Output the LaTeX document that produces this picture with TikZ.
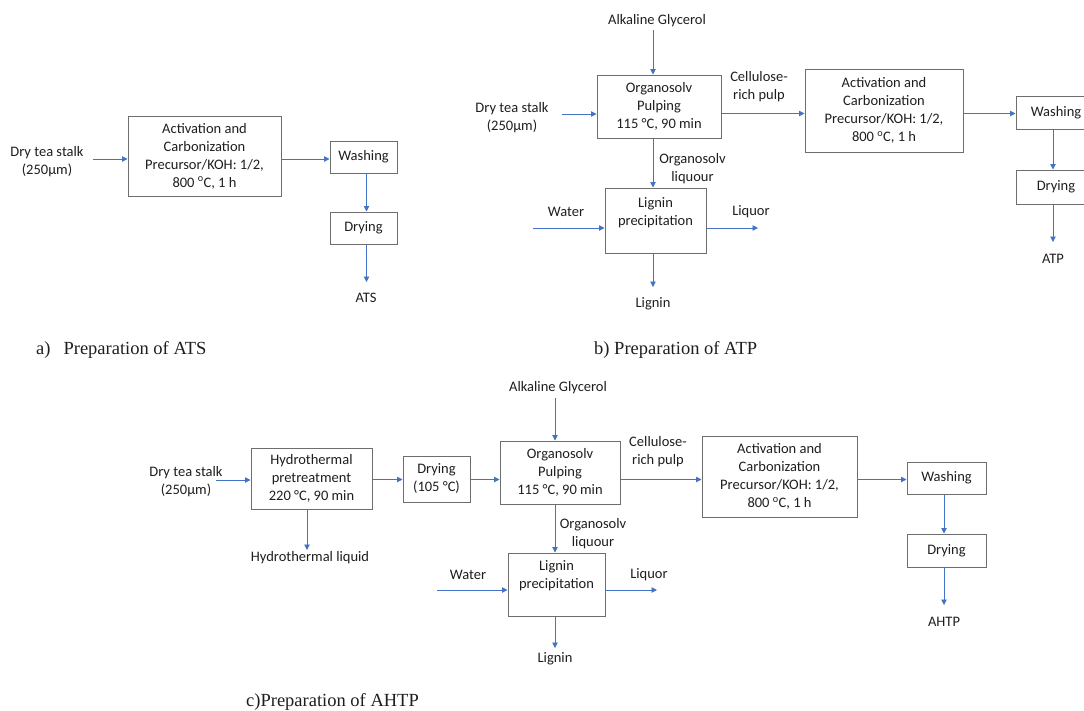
\documentclass[tikz,border=0pt]{standalone}
\usepackage{fontspec}
\setmainfont{Carlito}
\newfontfamily\capfont{Liberation Serif}
\usetikzlibrary{arrows.meta}
\definecolor{flowblue}{HTML}{4472C4}
\definecolor{boxgray}{HTML}{6E6E6E}
\definecolor{ink}{HTML}{1E1E1E}
\newcommand\diagfont{\fontsize{14.5}{18}\selectfont}
\newcommand\captionfont{\capfont\fontsize{18.5}{22}\selectfont}
\begin{document}
\begin{tikzpicture}[x=1pt,y=-1pt,
  every node/.style={inner sep=0pt, text=ink},
  box/.style={draw=boxgray, line width=1pt, align=center, font=\diagfont},
  lbl/.style={align=center, font=\diagfont},
  flow/.style={draw=flowblue, line width=0.9pt, -{Triangle[length=5.5pt,width=5.5pt]}},
  captext/.style={anchor=base west, font=\captionfont}]
\useasboundingbox (0,0) rectangle (1084,710);
\clip (0,0) rectangle (1084,710);

% ---------------- a) ATS ----------------
\node[lbl] (stalkA) at (47,162) {Dry tea stalk\\(250μm)};
\node[box, minimum width=153pt, minimum height=80pt] (actA) at (204.5,156)
  {Activation and\\Carbonization\\Precursor/KOH: 1/2,\\800 \textsuperscript{o}C, 1 h};
\node[box, minimum width=67pt, minimum height=32pt] (washA) at (363.5,157) {Washing};
\node[box, minimum width=67pt, minimum height=32pt] (dryA) at (363.5,228) {Drying};
\node[lbl] (ats) at (366,298) {ATS};

\coordinate (inA) at (93,159);
\coordinate (rowA) at (0,159);
\coordinate (colA) at (366.5,0);
\coordinate (atsTip) at (366.5,282);
\draw[flow] (inA) -- (inA -| actA.west);
\draw[flow] (actA.east |- rowA) -- (washA.west |- rowA);
\draw[flow] (washA.south -| colA) -- (dryA.north -| colA);
\draw[flow] (dryA.south -| colA) -- (atsTip);

\node[captext] (capA) at (36,354) {a)\hspace{13pt}Preparation of ATS};

% ---------------- b) ATP ----------------
\node[lbl] (glyB) at (657,21) {Alkaline Glycerol};
\node[lbl] (stalkB) at (512,118) {Dry tea stalk\\(250μm)};
\node[box, minimum width=124pt, minimum height=63pt] (orgB) at (659,106.5)
  {Organosolv\\Pulping\\115 °C, 90 min};
\node[lbl] (celB) at (759,87) {Cellulose-\\rich pulp};
\node[box, minimum width=158pt, minimum height=83pt] (actB) at (884,110.5)
  {Activation and\\Carbonization\\Precursor/KOH: 1/2,\\800 \textsuperscript{o}C, 1 h};
\node[box, minimum width=80pt, minimum height=33pt] (washB) at (1056,112.5) {Washing};
\node[box, minimum width=80pt, minimum height=34pt] (dryB) at (1056,187) {Drying};
\node[lbl] (atp) at (1053,259) {ATP};
\node[lbl] (liqB) at (692.5,169) {Organosolv\\liquour};
\node[box, minimum width=101pt, minimum height=65pt] (ligB) at (655.5,220.5) {};
\node[lbl] (ligBtext) at (655.5,212.5) {Lignin\\precipitation};
\node[lbl] (watB) at (566,212) {Water};
\node[lbl] (lqB) at (751,212) {Liquor};
\node[lbl] (lignB) at (653,304) {Lignin};

\coordinate (glyTipB) at (653,30);
\coordinate (inB) at (562,114);
\coordinate (rowB) at (0,113.5);
\coordinate (colB) at (1053,0);
\coordinate (atpTip) at (1053,242);
\coordinate (watInB) at (533,228);
\coordinate (lqOutB) at (758,228);
\coordinate (ligTipB) at (653,287);
\draw[flow] (glyTipB) -- (glyTipB |- orgB.north);
\draw[flow] (inB) -- (inB -| orgB.west);
\draw[flow] (orgB.east |- rowB) -- (actB.west |- rowB);
\draw[flow] (actB.east |- rowB) -- (washB.west |- rowB);
\draw[flow] (washB.south -| colB) -- (dryB.north -| colB);
\draw[flow] (dryB.south -| colB) -- (atpTip);
\draw[flow] (orgB.south -| glyTipB) -- (ligB.north -| glyTipB);
\draw[flow] (watInB) -- (watInB -| ligB.west);
\draw[flow] (ligB.east |- lqOutB) -- (lqOutB);
\draw[flow] (ligB.south -| ligTipB) -- (ligTipB);

\node[captext] (capB) at (594,354) {b) Preparation of ATP};

% ---------------- c) AHTP ----------------
\node[lbl] (stalkC) at (186,481.5) {Dry tea stalk\\(250μm)};
\node[box, minimum width=121pt, minimum height=61pt] (hydC) at (311.5,478.5)
  {Hydrothermal\\pretreatment\\220 °C, 90 min};
\node[lbl] (hliqC) at (310,558) {Hydrothermal liquid};
\node[box, minimum width=67pt, minimum height=46pt] (dry105) at (436.5,479) {Drying\\(105 °C)};
\node[lbl] (glyC) at (558,388) {Alkaline Glycerol};
\node[box, minimum width=120pt, minimum height=63pt] (orgC) at (560,472.5)
  {Organosolv\\Pulping\\115 °C, 90 min};
\node[lbl] (celC) at (658,452) {Cellulose-\\rich pulp};
\node[box, minimum width=155pt, minimum height=81pt] (actC) at (779.5,476.5)
  {Activation and\\Carbonization\\Precursor/KOH: 1/2,\\800 \textsuperscript{o}C, 1 h};
\node[box, minimum width=79pt, minimum height=32pt] (washC) at (946.5,478) {Washing};
\node[box, minimum width=79pt, minimum height=33pt] (dryC) at (946.5,550.5) {Drying};
\node[lbl] (ahtp) at (944,622) {AHTP};
\node[lbl] (liqC) at (593,534) {Organosolv\\liquour};
\node[box, minimum width=97pt, minimum height=63pt] (ligC) at (556.5,584.5) {};
\node[lbl] (ligCtext) at (556.5,576) {Lignin\\precipitation};
\node[lbl] (watC) at (468,575) {Water};
\node[lbl] (lqC) at (649,575) {Liquor};
\node[lbl] (lignC) at (555,659) {Lignin};

\coordinate (inC) at (216,480);
\coordinate (rowC) at (0,479.5);
\coordinate (hydCol) at (307,0);
\coordinate (hliqTip) at (307,550);
\coordinate (glyTipC) at (555,398);
\coordinate (colC) at (944,0);
\coordinate (ahtpTip) at (944,605);
\coordinate (watInC) at (437,590);
\coordinate (lqOutC) at (657,590);
\coordinate (ligTipC) at (555,648);
\draw[flow] (inC) -- (inC -| hydC.west);
\draw[flow] (hydC.east |- rowC) -- (dry105.west |- rowC);
\draw[flow] (dry105.east |- rowC) -- (orgC.west |- rowC);
\draw[flow] (orgC.east |- rowC) -- (actC.west |- rowC);
\draw[flow] (actC.east |- rowC) -- (washC.west |- rowC);
\draw[flow] (hydC.south -| hydCol) -- (hliqTip);
\draw[flow] (glyTipC) -- (glyTipC |- orgC.north);
\draw[flow] (washC.south -| colC) -- (dryC.north -| colC);
\draw[flow] (dryC.south -| colC) -- (ahtpTip);
\draw[flow] (orgC.south -| glyTipC) -- (ligC.north -| glyTipC);
\draw[flow] (watInC) -- (watInC -| ligC.west);
\draw[flow] (ligC.east |- lqOutC) -- (lqOutC);
\draw[flow] (ligC.south -| ligTipC) -- (ligTipC);

\node[captext] (capC) at (246,706) {c)Preparation of AHTP};
\end{tikzpicture}
\end{document}
